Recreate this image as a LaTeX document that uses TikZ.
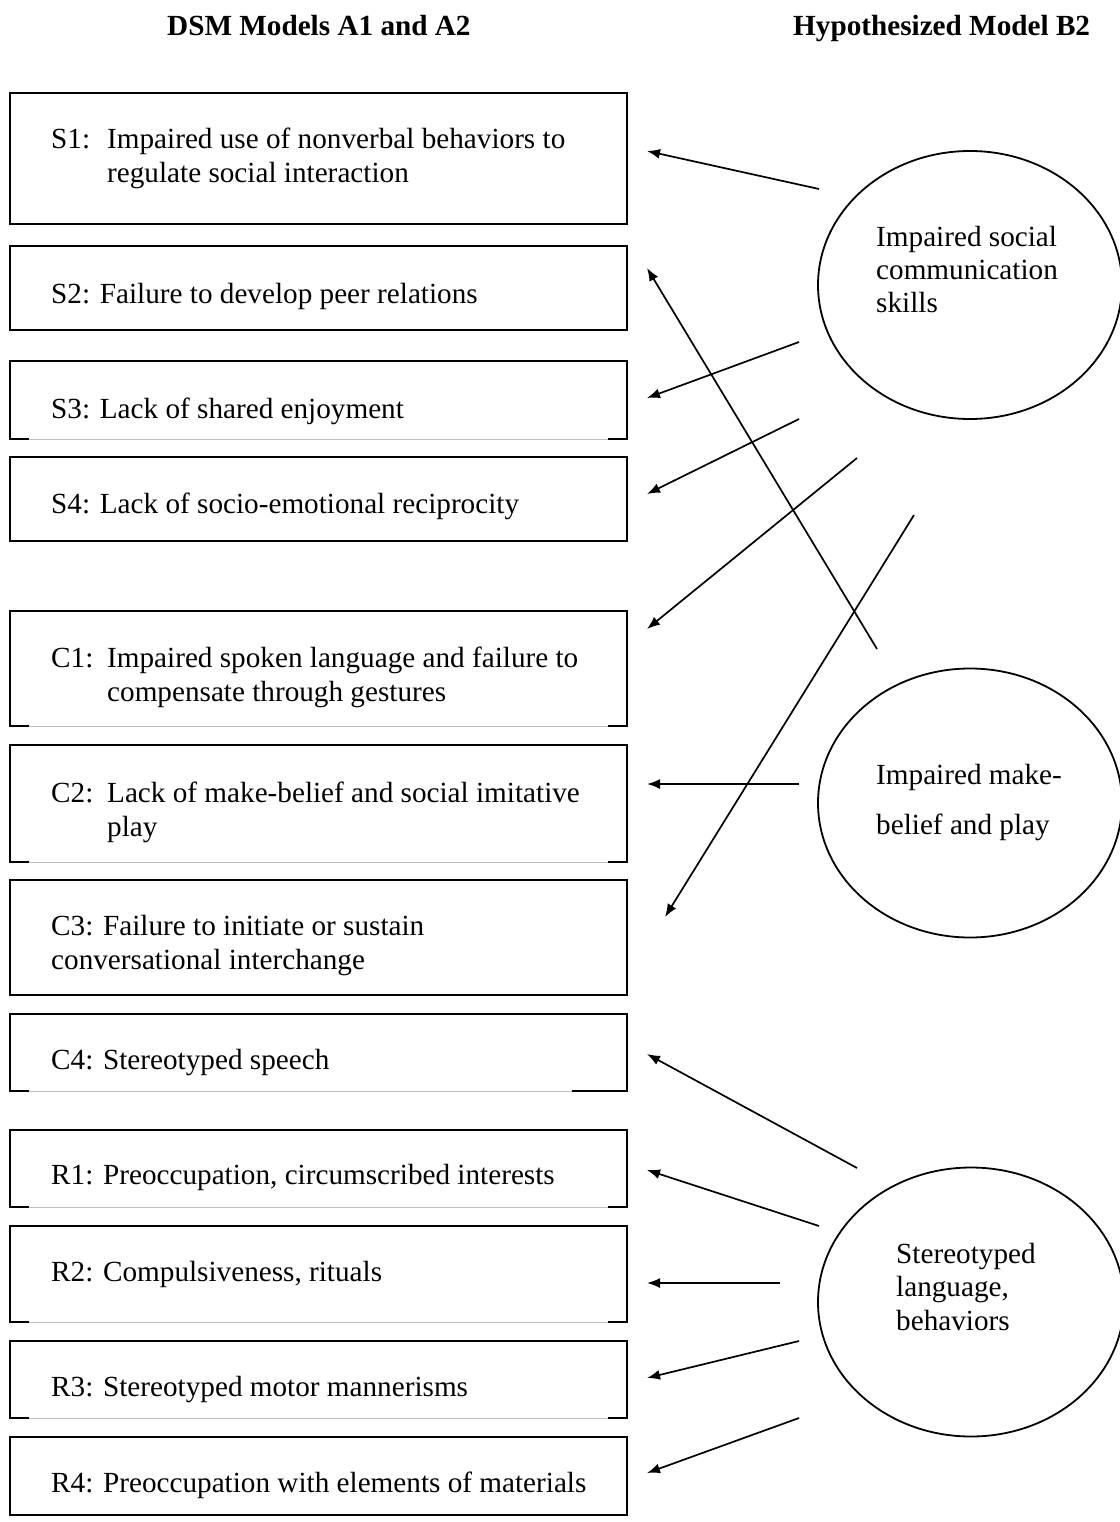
\documentclass[tikz,border=0pt]{standalone}
\usepackage{fontspec}
\setmainfont{Liberation Serif}
\usetikzlibrary{shapes.geometric,arrows.meta}
\newcommand\bfs{\fontsize{29.2}{34}\selectfont}
\newcommand\lbl[1]{\makebox[56pt][l]{#1}}
\begin{document}
\begin{tikzpicture}[x=1pt,y=-1pt,
  boxn/.style={draw=none,minimum width=617pt,anchor=north west,inner sep=0pt,outer sep=0pt},
  boxline/.style={line width=1.9pt,line join=miter},
  faint/.style={line width=0.9pt,draw=black!25},
  txt/.style={anchor=base west,inner sep=0pt,font=\bfs},
  ttl/.style={anchor=base west,inner sep=0pt,font=\bfs\bfseries},
  oval/.style={ellipse,draw,line width=1.8pt,inner sep=0pt},
  conn/.style={line width=1.7pt,-{Latex[length=13pt,width=10pt]}}
]
\useasboundingbox (0,0) rectangle (1119,1522);
\newcommand\fullbox[3]{%
  \node[boxn,minimum height=#3-#2] (#1) at (10,#2) {};
  \draw[boxline] (#1.north west) rectangle (#1.south east);}
\newcommand\gapbox[4]{%
  \node[boxn,minimum height=#3-#2] (#1) at (10,#2) {};
  \draw[boxline] ([xshift=19pt]#1.south west) -- (#1.south west) -- (#1.north west)
     -- (#1.north east) -- (#1.south east) -- ([xshift=-#4pt]#1.south east);
  \draw[faint] ([xshift=19pt]#1.south west) -- ([xshift=-#4pt]#1.south east);}

% titles
\node[ttl] (t1) at (167,36) {DSM Models A1 and A2};
\node[ttl] (t2) at (793,36) {Hypothesized Model B2};

% boxes
\fullbox{S1}{93}{224}
\fullbox{S2}{246}{330}
\gapbox{S3}{361}{439}{19}
\fullbox{S4}{457}{541}
\gapbox{C1}{611}{726}{19}
\gapbox{C2}{745}{862}{19}
\fullbox{C3}{880}{995}
\gapbox{C4}{1014}{1091}{55}
\gapbox{R1}{1130}{1207}{19}
\gapbox{R2}{1226}{1322}{19}
\gapbox{R3}{1341}{1418}{19}
\fullbox{R4}{1437}{1515}

% box texts
\node[txt] (S1t) at (51,149) {\begin{tabular}[t]{@{}l@{}}\lbl{S1:}Impaired use of nonverbal behaviors to\\\hspace*{56pt}regulate social interaction\end{tabular}};
\node[txt] (S2t) at (51,303) {S2: Failure to develop peer relations};
\node[txt] (S3t) at (51,418) {S3: Lack of shared enjoyment};
\node[txt] (S4t) at (51,513) {S4: Lack of socio-emotional reciprocity};
\node[txt] (C1t) at (51,667) {\begin{tabular}[t]{@{}l@{}}\lbl{C1:}Impaired spoken language and failure to\\\hspace*{56pt}compensate through gestures\end{tabular}};
\node[txt] (C2t) at (51,802) {\begin{tabular}[t]{@{}l@{}}\lbl{C2:}Lack of make-belief and social imitative\\\hspace*{56pt}play\end{tabular}};
\node[txt] (C3t) at (51,935) {\begin{tabular}[t]{@{}l@{}}C3: Failure to initiate or sustain\\conversational interchange\end{tabular}};
\node[txt] (C4t) at (51,1069) {C4: Stereotyped speech};
\node[txt] (R1t) at (51,1184) {R1: Preoccupation, circumscribed interests};
\node[txt] (R2t) at (51,1281) {R2: Compulsiveness, rituals};
\node[txt] (R3t) at (51,1396) {R3: Stereotyped motor mannerisms};
\node[txt] (R4t) at (51,1492) {R4: Preoccupation with elements of materials};

% ellipses
\node[oval,minimum width=304pt,minimum height=268pt] (E1) at (970,285) {};
\node[oval,minimum width=304pt,minimum height=269pt] (E2) at (970,803) {};
\node[oval,minimum width=306pt,minimum height=269pt] (E3) at (971,1302) {};
\node[txt] (E1t) at (876,247) {\fontsize{29.2}{33}\selectfont\begin{tabular}[t]{@{}l@{}}Impaired social\\communication\\skills\end{tabular}};
\node[txt] (E2t) at (876,784) {\fontsize{29.2}{50}\selectfont\begin{tabular}[t]{@{}l@{}}Impaired make-\\belief and play\end{tabular}};
\node[txt] (E3t) at (896,1263) {\fontsize{29.2}{33.5}\selectfont\begin{tabular}[t]{@{}l@{}}Stereotyped\\language,\\behaviors\end{tabular}};

% connector end points
\coordinate (a1s) at (819,189);  \coordinate (a1e) at (647,151);
\coordinate (a2s) at (877,649);  \coordinate (a2e) at (647,268);
\coordinate (a3s) at (799,342);  \coordinate (a3e) at (647,398);
\coordinate (a4s) at (799,419);  \coordinate (a4e) at (647,494);
\coordinate (a5s) at (857,458);  \coordinate (a5e) at (647,629);
\coordinate (a6s) at (914,515);  \coordinate (a6e) at (665,917);
\coordinate (a7s) at (799,784);  \coordinate (a7e) at (647,784);
\coordinate (b1s) at (857,1168); \coordinate (b1e) at (647,1054);
\coordinate (b2s) at (819,1226); \coordinate (b2e) at (647,1170);
\coordinate (b3s) at (780,1283); \coordinate (b3e) at (647,1283);
\coordinate (b4s) at (799,1341); \coordinate (b4e) at (647,1378);
\coordinate (b5s) at (799,1418); \coordinate (b5e) at (647,1473);

\draw[conn] (a1s) -- (a1e);
\draw[conn] (a2s) -- (a2e);
\draw[conn] (a3s) -- (a3e);
\draw[conn] (a4s) -- (a4e);
\draw[conn] (a5s) -- (a5e);
\draw[conn] (a6s) -- (a6e);
\draw[conn] (a7s) -- (a7e);
\draw[conn] (b1s) -- (b1e);
\draw[conn] (b2s) -- (b2e);
\draw[conn] (b3s) -- (b3e);
\draw[conn] (b4s) -- (b4e);
\draw[conn] (b5s) -- (b5e);
\end{tikzpicture}
\end{document}
